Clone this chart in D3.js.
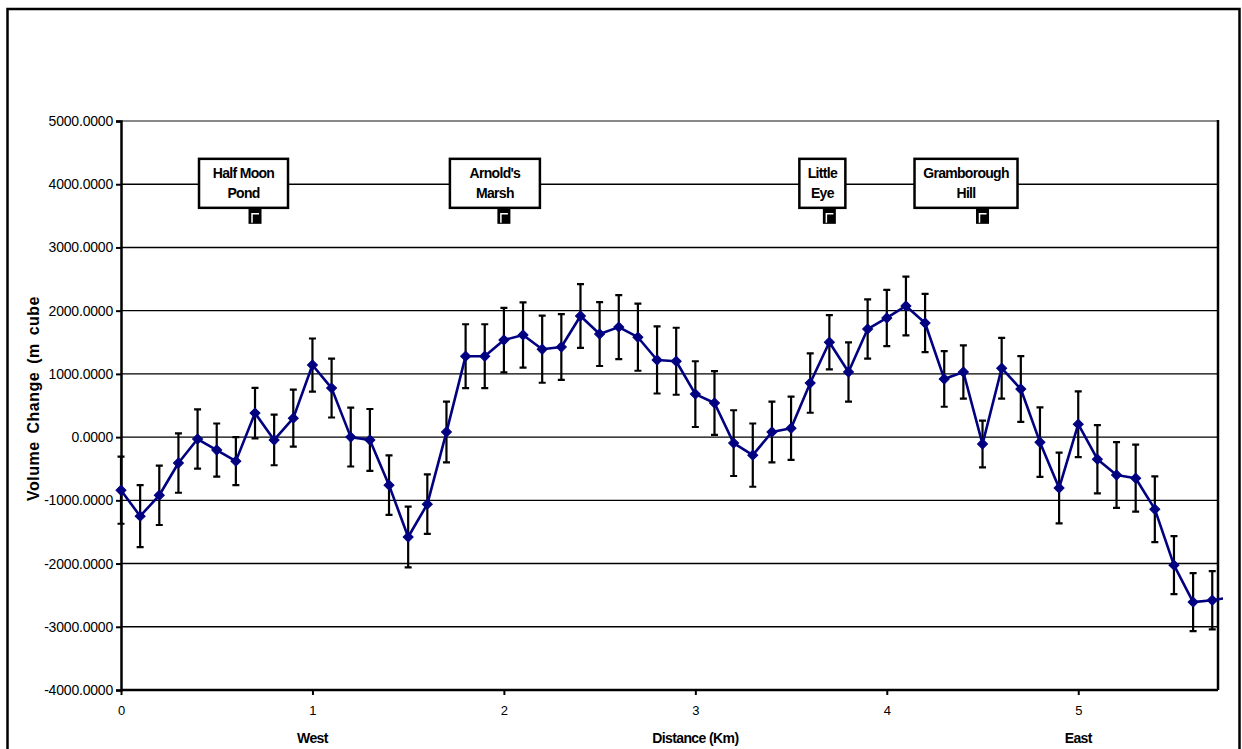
<!DOCTYPE html>
<html>
<head>
<meta charset="utf-8">
<script src="https://cdn.jsdelivr.net/npm/d3@7/dist/d3.min.js"></script>
<style>
  html, body { margin: 0; padding: 0; background: #fff; }
  svg { display: block; }
  text { font-family: "Liberation Sans", Arial, sans-serif; }
</style>
</head>
<body>
<div id="chart"></div>
<script>
// ---- data ----
const distances = [0.0,0.1,0.2,0.3,0.4,0.5,0.6,0.7,0.8,0.9,
                   1.0,1.1,1.2,1.3,1.4,1.5,1.6,1.7,1.8,1.9,
                   2.0,2.1,2.2,2.3,2.4,2.5,2.6,2.7,2.8,2.9,
                   3.0,3.1,3.2,3.3,3.4,3.5,3.6,3.7,3.8,3.9,
                   4.0,4.1,4.2,4.3,4.4,4.5,4.6,4.7,4.8,4.9,
                   5.0,5.1,5.2,5.3,5.4,5.5,5.6,5.7,5.8];
const volumeChange = [-840,-1250,-920,-410,-30,-205,-380,380,-45,300,
                      1140,775,0,-45,-760,-1580,-1060,80,1280,1280,
                      1535,1615,1390,1425,1915,1630,1740,1580,1220,1200,
                      680,540,-95,-285,80,140,855,1500,1030,1710,
                      1885,2075,1805,920,1030,-110,1090,760,-80,-805,
                      205,-350,-600,-650,-1140,-2025,-2610,-2580,-2530];
const errorSize = [530,490,470,470,470,420,380,400,400,450,
                   420,465,465,490,470,480,470,480,505,505,
                   510,515,530,520,505,505,505,530,530,530,
                   520,505,520,500,480,500,470,430,470,470,
                   445,465,460,440,420,370,480,520,550,560,
                   520,540,520,530,520,460,460,460,460];

const landmarkNames = [["Half Moon","Pond"],["Arnold's","Marsh"],["Little","Eye"],["Gramborough","Hill"]];
const landmarkDistance = [0.7, 2.0, 3.7, 4.5];
const landmarkValue = [3500, 3500, 3500, 3500];

const yTicks = [-4000,-3000,-2000,-1000,0,1000,2000,3000,4000,5000];
const xTicks = [0,1,2,3,4,5];
const xDomain = [0, 5.73];
const yDomain = [-4000, 5000];

// layout (not data): label box left offset from marker and box width
const labelBoxLeft = [-56, -54, -30, -68];
const labelBoxWidth = [89, 90, 46, 103];

// ---- drawing ----
const W = 1242, H = 749;
const plot = {left: 121, right: 1218, top: 121, bottom: 690};

const svg = d3.select("#chart").append("svg").attr("width", W).attr("height", H);

// outer chart border
svg.append("rect").attr("x", 7.5).attr("y", 9).attr("width", 1232).attr("height", 760)
  .attr("fill", "#fff").attr("stroke", "#000").attr("stroke-width", 2.5);

const x = d3.scaleLinear().domain(xDomain).range([plot.left, plot.right]);
const y = d3.scaleLinear().domain(yDomain).range([plot.bottom, plot.top]);

// gridlines
svg.append("g").selectAll("line").data(yTicks.filter(v => v > yDomain[0]))
  .join("line")
  .attr("x1", plot.left).attr("x2", plot.right)
  .attr("y1", d => y(d)).attr("y2", d => y(d))
  .attr("stroke", d => d === yDomain[1] ? "#888" : "#000")
  .attr("stroke-width", d => d === yDomain[1] ? 2 : 1.4);

// right plot border
svg.append("line").attr("x1", plot.right).attr("x2", plot.right)
  .attr("y1", plot.top - 1).attr("y2", plot.bottom)
  .attr("stroke", "#000").attr("stroke-width", 2.5);

// y axis
const fmt = d3.format(".4f");
const yAxis = d3.axisLeft(y).tickValues(yTicks).tickSize(5).tickPadding(3)
  .tickFormat(d => fmt(d).replace("\u2212", "-"));
const gy = svg.append("g").attr("transform", `translate(${plot.left},0)`).call(yAxis);
gy.select(".domain").attr("stroke", "#000").attr("stroke-width", 2.5);
gy.selectAll(".tick line").attr("stroke", "#000").attr("stroke-width", 2);
gy.selectAll(".tick text").attr("font-size", 14).attr("fill", "#000")
  .attr("font-family", "Liberation Sans, Arial, sans-serif").attr("letter-spacing", -0.2);

// x axis
const xAxis = d3.axisBottom(x).tickValues(xTicks).tickSize(5).tickPadding(11)
  .tickFormat(d3.format("d"));
const gx = svg.append("g").attr("transform", `translate(0,${plot.bottom})`).call(xAxis);
gx.select(".domain").attr("stroke", "#000").attr("stroke-width", 2.5)
  .attr("d", `M${plot.left},0H${plot.right}`);
gx.selectAll(".tick line").attr("stroke", "#000").attr("stroke-width", 2);
gx.selectAll(".tick text").attr("font-size", 13).attr("fill", "#000")
  .attr("font-family", "Liberation Sans, Arial, sans-serif");

// x axis titles
const xTitles = [["West", 1], ["Distance (Km)", 3], ["East", 5]];
svg.append("g").selectAll("text").data(xTitles).join("text")
  .attr("x", d => x(d[1])).attr("y", 743)
  .attr("text-anchor", "middle").attr("font-size", 14).attr("font-weight", "bold")
  .attr("letter-spacing", -0.6)
  .text(d => d[0]);

// y axis title (clipped as in the original)
svg.append("clipPath").attr("id", "ytclip").append("rect")
  .attr("x", 10).attr("y", 296).attr("width", 50).attr("height", 220);
svg.append("g").attr("clip-path", "url(#ytclip)")
  .append("text")
  .attr("transform", "translate(39,501) rotate(-90)")
  .attr("text-anchor", "start").attr("font-size", 16).attr("font-weight", "bold")
  .attr("word-spacing", 3).attr("letter-spacing", 0.5)
  .text("Volume Change (m cubed)");

// data clip
svg.append("clipPath").attr("id", "plotclip").append("rect")
  .attr("x", 100).attr("y", 100).attr("width", 1223 - 100).attr("height", 620);

const series = distances.map((d, i) => ({d, v: volumeChange[i], e: errorSize[i]}));
const gData = svg.append("g").attr("clip-path", "url(#plotclip)");

// error bars
const eb = gData.append("g").attr("stroke", "#000").attr("stroke-width", 2.2);
eb.selectAll("path").data(series).join("path")
  .attr("fill", "none")
  .attr("d", p => {
    const cx = x(p.d), t = y(p.v + p.e), b = y(p.v - p.e);
    return `M${cx - 3.5},${t}H${cx + 3.5}M${cx},${t}V${b}M${cx - 3.5},${b}H${cx + 3.5}`;
  });

// line
gData.append("path").datum(series)
  .attr("fill", "none").attr("stroke", "#000080").attr("stroke-width", 2.6)
  .attr("stroke-linejoin", "round")
  .attr("d", d3.line().x(p => x(p.d)).y(p => y(p.v)));

// diamond markers
const diamond = d3.symbol(d3.symbolSquare, 50);
gData.append("g").selectAll("path").data(series).join("path")
  .attr("d", diamond)
  .attr("transform", p => `translate(${x(p.d)},${y(p.v)}) rotate(45)`)
  .attr("fill", "#000080").attr("stroke", "#000080").attr("stroke-width", 1);

// landmark markers & labels
const landmarks = landmarkNames.map((n, i) => ({n, d: landmarkDistance[i], v: landmarkValue[i],
  bl: labelBoxLeft[i], bw: labelBoxWidth[i]}));
const gl = svg.append("g");
const lm = gl.selectAll("g.lm").data(landmarks).join("g").attr("class", "lm")
  .attr("transform", p => `translate(${x(p.d)},${y(p.v)})`);
lm.append("rect").attr("x", -6.5).attr("y", -8).attr("width", 13).attr("height", 16).attr("fill", "#000");
lm.append("path").attr("d", "M-3,7V-2H4").attr("fill", "none").attr("stroke", "#fff").attr("stroke-width", 1.5);

// label boxes
const lb = gl.selectAll("g.lb").data(landmarks).join("g").attr("class", "lb")
  .attr("transform", p => `translate(${x(p.d) + p.bl},${y(p.v)})`);
lb.append("rect").attr("fill", "#fff").attr("stroke", "#000").attr("stroke-width", 2.5)
  .attr("x", 0).attr("y", -57).attr("width", p => p.bw).attr("height", 49);
const txt = lb.append("text").attr("text-anchor", "middle").attr("font-size", 14)
  .attr("font-weight", "bold").attr("letter-spacing", -0.7);
txt.selectAll("tspan").data(p => p.n.map(t => ({t, cx: p.bw / 2}))).join("tspan")
  .attr("x", q => q.cx).attr("y", (q, i) => -38 + i * 20).text(q => q.t);
</script>
</body>
</html>
